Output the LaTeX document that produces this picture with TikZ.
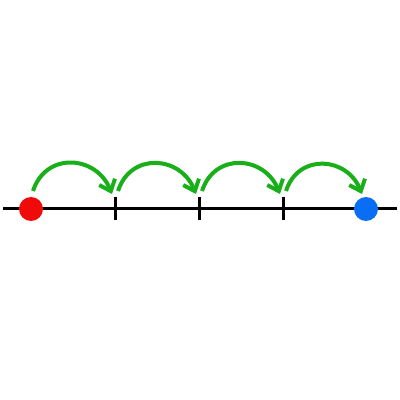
\documentclass[tikz,border=0pt]{standalone}
\usetikzlibrary{arrows.meta}
\definecolor{dotred}{RGB}{240,10,10}
\definecolor{dotblue}{RGB}{10,110,245}
\definecolor{arcgreen}{RGB}{25,175,25}
\begin{document}
\begin{tikzpicture}[x=1pt,y=1pt,
  axis/.style={line width=3pt,black},
  tickmark/.style={line width=3pt,black},
  hop/.style={line width=4pt,arcgreen,-{Straight Barb[length=10pt,width=17pt,line width=4pt]},out=72,in=112,looseness=1.35},
  dot/.style={circle,inner sep=0pt,minimum size=24pt}]
\useasboundingbox (0,0) rectangle (400,400);
\fill[white] (0,0) rectangle (400,400);
\coordinate (L) at (3,191);
\coordinate (R) at (397,191);
\draw[axis] (L) -- (R);
\foreach \n/\x in {t1/115,t2/199,t3/283}{
  \coordinate (\n top) at (\x,203);
  \coordinate (\n bot) at (\x,180);
  \draw[tickmark] (\n top) -- (\n bot);
}
\node[dot,fill=dotred] (start) at (31,191) {};
\node[dot,fill=dotblue] (end) at (366,191) {};
\coordinate (s1) at (33,209); \coordinate (e1) at (112,206);
\coordinate (s2) at (118,209); \coordinate (e2) at (196,206);
\coordinate (s3) at (202,209); \coordinate (e3) at (280,206);
\coordinate (s4) at (286,209); \coordinate (e4) at (362,206);
\draw[hop] (s1) to (e1);
\draw[hop] (s2) to (e2);
\draw[hop] (s3) to (e3);
\draw[hop] (s4) to (e4);
\end{tikzpicture}
\end{document}
